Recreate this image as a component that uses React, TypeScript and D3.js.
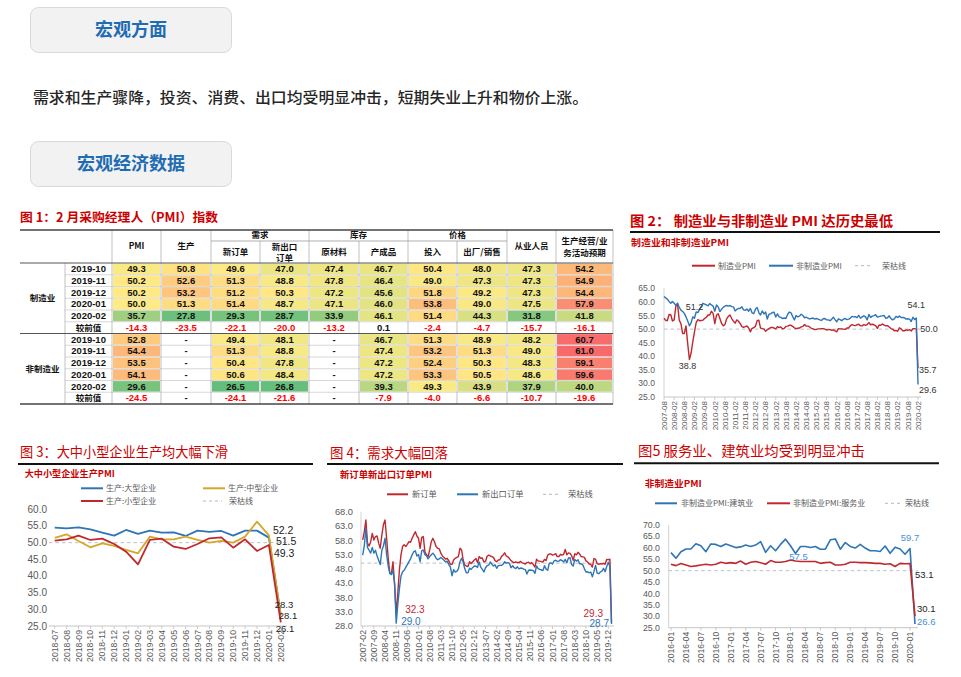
import React from "react";
import * as d3 from "d3";

const CJK = '"Noto Sans CJK SC", "Noto Sans", sans-serif';
const LAT = '"Liberation Sans", Arial, "Noto Sans CJK SC", sans-serif';
const TITLE_RED = "#cc0000";
const C_RED = "#c0282e";
const C_BLUE = "#2e75b6";
const C_LBLUE = "#4a8fd6";
const C_GOLD = "#d4a62a";
const GRAY = "#595959";

const monthList = (y: number, m: number, n: number) => {
  const d0 = new Date(y, m - 1, 1);
  const f = d3.timeFormat("%Y-%m");
  return d3.range(n).map((i) => f(d3.timeMonth.offset(d0, i)));
};

// ---------- Table data ----------
const TABLE_COLS = ["PMI", "生产", "新订单", "新出口订单", "原材料", "产成品", "投入", "出厂/销售", "从业人员", "生产经营/业务活动预期"];
const ROW_DATES = ["2019-10", "2019-11", "2019-12", "2020-01", "2020-02"];
const MFG_VALUES: (number | null)[][] = [
  [49.3, 50.8, 49.6, 47.0, 47.4, 46.7, 50.4, 48.0, 47.3, 54.2],
  [50.2, 52.6, 51.3, 48.8, 47.8, 46.4, 49.0, 47.3, 47.3, 54.9],
  [50.2, 53.2, 51.2, 50.3, 47.2, 45.6, 51.8, 49.2, 47.3, 54.4],
  [50.0, 51.3, 51.4, 48.7, 47.1, 46.0, 53.8, 49.0, 47.5, 57.9],
  [35.7, 27.8, 29.3, 28.7, 33.9, 46.1, 51.4, 44.3, 31.8, 41.8],
];
const MFG_CHANGE: (number | null)[] = [-14.3, -23.5, -22.1, -20.0, -13.2, 0.1, -2.4, -4.7, -15.7, -16.1];
const NON_VALUES: (number | null)[][] = [
  [52.8, null, 49.4, 48.1, null, 46.7, 51.3, 48.9, 48.2, 60.7],
  [54.4, null, 51.3, 48.8, null, 47.4, 53.2, 51.3, 49.0, 61.0],
  [53.5, null, 50.4, 47.8, null, 47.2, 52.4, 50.3, 48.3, 59.1],
  [54.1, null, 50.6, 48.4, null, 47.2, 53.3, 50.5, 48.6, 59.6],
  [29.6, null, 26.5, 26.8, null, 39.3, 49.3, 43.9, 37.9, 40.0],
];
const NON_CHANGE: (number | null)[] = [-24.5, null, -24.1, -21.6, null, -7.9, -4.0, -6.6, -10.7, -19.6];

// ---------- Chart 2 data: 2007-08 .. 2020-02 ----------
const MFG_PMI = [
  54.0, 53.2, 53.2, 55.4, 55.3,
  53.0, 53.4, 58.4, 59.2, 53.3, 52.0, 48.4, 48.4, 51.2, 44.6, 38.8, 41.2,
  45.3, 49.0, 52.4, 53.5, 53.1, 53.2, 53.3, 54.0, 54.3, 55.2, 55.2, 56.6,
  55.8, 52.0, 55.1, 55.7, 53.9, 52.1, 51.2, 51.7, 53.8, 54.7, 55.2, 53.9,
  52.9, 52.2, 53.4, 52.9, 52.0, 50.9, 50.7, 50.9, 51.2, 50.4, 49.0, 50.3,
  50.5, 51.0, 53.1, 53.3, 50.4, 50.2, 50.1, 49.2, 49.8, 50.2, 50.6, 50.6,
  50.4, 50.1, 50.9, 50.6, 50.8, 50.1, 50.3, 51.0, 51.1, 51.4, 51.4, 51.0,
  50.5, 50.2, 50.3, 50.4, 50.8, 51.0, 51.7, 51.1, 51.1, 50.8, 50.3, 50.1,
  49.8, 49.9, 50.1, 50.1, 50.2, 50.2, 50.0, 49.7, 49.8, 49.8, 49.6, 49.7,
  49.4, 49.0, 50.2, 50.1, 50.1, 50.0, 49.9, 50.4, 50.4, 51.2, 51.7, 51.4,
  51.3, 51.6, 51.8, 51.2, 51.2, 51.7, 51.4, 51.7, 52.4, 51.6, 51.8, 51.6,
  51.3, 50.3, 51.5, 51.4, 51.9, 51.5, 51.2, 51.3, 50.8, 50.2, 50.0, 49.4,
  49.5, 49.2, 50.5, 50.1, 49.4, 49.4, 49.7, 49.5, 49.8, 49.3, 50.2, 50.2,
  50.0, 35.7,
];
const NON_PMI = [
  62.0, 61.5, 61.0, 60.2, 59.5,
  60.2, 59.5, 58.8, 59.6, 58.0, 57.0, 56.5, 55.8, 54.5, 53.0, 51.2, 52.3,
  54.5, 54.0, 56.3, 56.1, 57.3, 58.4, 59.5, 59.2, 58.9, 58.6, 59.4, 58.9,
  58.5, 56.6, 58.9, 58.2, 56.5, 57.3, 58.0, 58.5, 58.7, 58.5, 58.7, 58.3,
  58.2, 56.7, 57.3, 57.6, 57.7, 58.2, 57.1, 56.9, 57.4, 56.6, 57.6, 56.0,
  55.7, 57.3, 58.0, 56.1, 55.2, 56.7, 55.6, 56.3, 53.7, 55.5, 55.6, 56.1,
  56.2, 54.5, 55.6, 54.5, 54.3, 53.9, 54.1, 53.9, 55.4, 56.3, 56.0, 54.6,
  53.4, 55.0, 54.5, 54.8, 55.5, 55.0, 54.2, 54.4, 54.0, 53.8, 53.9, 54.1,
  53.7, 53.9, 53.7, 53.4, 53.2, 53.8, 53.9, 53.4, 53.4, 53.1, 53.6, 54.4,
  53.5, 52.7, 53.8, 53.5, 53.1, 53.7, 53.9, 53.5, 53.7, 54.0, 54.7, 54.5,
  54.6, 54.2, 55.1, 54.0, 54.5, 54.9, 54.5, 53.4, 55.4, 54.3, 54.8, 55.0,
  55.3, 54.4, 54.6, 54.8, 54.9, 55.0, 54.0, 54.2, 54.9, 53.9, 53.4, 53.8,
  54.7, 54.3, 54.8, 54.3, 54.3, 54.2, 53.7, 53.8, 53.7, 52.8, 54.4, 53.5,
  54.1, 29.6,
];

// ---------- Chart 3 data: 2018-07 .. 2020-02 ----------
const PROD_LARGE = [54.5, 54.3, 54.6, 54.0, 53.0, 52.1, 53.8, 52.6, 53.6, 53.0, 53.1, 52.0, 53.6, 53.2, 53.5, 52.1, 53.6, 53.6, 51.5, 28.3];
const PROD_MEDIUM = [51.4, 52.5, 50.5, 48.6, 49.8, 49.0, 47.8, 46.8, 51.8, 51.0, 51.0, 51.8, 50.8, 50.0, 50.5, 50.0, 51.8, 56.3, 52.2, 28.1];
const PROD_SMALL = [50.6, 51.0, 52.1, 50.8, 51.2, 49.6, 47.3, 43.5, 50.8, 51.2, 48.8, 48.1, 49.6, 51.3, 51.6, 48.5, 51.0, 47.5, 49.3, 26.1];

// ---------- Chart 4 data: 2007-02 .. 2020-02 ----------
const NEW_ORDERS = [
  58.1, 61.0, 65.1, 57.0, 56.0, 57.5, 60.4, 58.1, 59.3, 59.5, 57.0,
  55.2, 59.8, 63.5, 65.1, 58.7, 51.7, 46.4, 46.4, 50.5, 42.3, 32.3, 39.4,
  47.6, 52.9, 55.8, 56.4, 55.8, 56.6, 57.5, 57.3, 58.7, 59.9, 61.0, 59.5,
  58.7, 55.2, 59.0, 59.3, 54.0, 52.9, 52.3, 54.6, 57.5, 58.7, 57.5, 55.8,
  55.2, 55.0, 53.5, 52.5, 52.0, 51.4, 51.7, 50.8, 49.5, 49.6, 51.1, 51.7,
  52.0, 52.3, 55.2, 54.6, 51.1, 49.3, 49.0, 48.8, 50.5, 49.9, 50.5, 51.1,
  51.6, 50.1, 52.3, 51.7, 51.8, 50.4, 50.6, 52.4, 52.8, 52.5, 52.3, 52.0,
  50.9, 50.5, 51.1, 51.2, 52.3, 52.8, 53.6, 52.5, 52.2, 51.6, 50.9, 50.4,
  50.2, 50.4, 50.2, 50.2, 50.6, 50.1, 49.9, 49.7, 50.2, 50.3, 49.8, 50.2,
  49.5, 48.6, 51.4, 50.7, 50.7, 50.5, 50.4, 51.3, 50.9, 52.8, 53.2, 53.2,
  52.8, 53.0, 53.3, 52.3, 52.3, 53.1, 52.8, 53.1, 54.8, 52.9, 53.6, 53.4,
  52.6, 51.0, 53.3, 52.9, 53.8, 53.2, 52.3, 52.2, 52.0, 50.8, 50.4, 49.7,
  49.6, 48.6, 51.6, 51.4, 49.8, 49.6, 49.8, 49.7, 49.9, 49.6, 51.3, 51.2,
  51.4, 29.3,
];
const NEW_EXPORT = [
  52.8, 56.0, 62.2, 55.5, 54.5, 53.5, 55.5, 53.5, 54.5, 52.5, 51.0,
  49.5, 54.5, 56.0, 58.7, 53.0, 49.0, 46.4, 46.0, 47.5, 43.0, 29.0, 35.5,
  41.0, 45.5, 47.0, 47.5, 48.5, 49.5, 50.5, 51.5, 52.9, 54.0, 54.3, 52.5,
  53.0, 50.5, 54.3, 54.6, 53.0, 52.6, 51.5, 52.3, 52.9, 53.5, 52.8, 51.7,
  51.2, 51.5, 52.0, 51.5, 51.0, 50.4, 50.7, 49.5, 48.6, 45.6, 47.7, 46.9,
  47.1, 48.0, 50.5, 51.7, 50.3, 48.0, 46.6, 46.6, 48.2, 47.8, 48.5, 49.0,
  48.9, 48.5, 50.4, 48.6, 47.8, 46.9, 48.4, 49.1, 49.3, 50.4, 49.6, 49.0,
  49.4, 48.2, 49.1, 49.2, 49.2, 49.6, 50.5, 50.0, 50.2, 49.9, 48.4, 49.1,
  48.4, 48.1, 48.7, 48.0, 48.3, 48.2, 47.9, 47.7, 46.2, 47.5, 47.6, 47.5,
  47.4, 46.4, 49.0, 48.1, 47.8, 47.6, 47.4, 49.1, 47.9, 47.5, 50.0, 50.1,
  49.7, 50.8, 51.0, 50.6, 50.7, 51.2, 50.9, 50.4, 51.3, 50.1, 51.8, 51.9,
  49.5, 49.0, 51.3, 50.7, 51.2, 49.8, 49.8, 49.4, 48.0, 46.9, 47.0, 46.6,
  46.9, 45.2, 47.1, 49.2, 46.5, 46.3, 46.9, 47.2, 48.2, 47.0, 48.8, 50.3,
  48.7, 28.7,
];

// ---------- Chart 5 data: 2016-01 .. 2020-02 ----------
const CONSTRUCTION = [
  57.9, 55.4, 58.3, 59.5, 59.5, 61.8, 60.9, 58.3, 61.7, 61.5, 60.6, 61.7,
  60.9, 60.1, 60.4, 61.2, 60.6, 61.2, 62.7, 58.0, 60.9, 58.7, 61.5, 63.8,
  60.9, 57.5, 60.6, 60.6, 60.1, 60.6, 59.4, 59.4, 63.5, 63.9, 59.4, 62.3,
  60.6, 59.9, 61.5, 59.9, 58.7, 58.7, 58.4, 60.8, 57.6, 60.3, 59.5, 57.2,
  59.7, 26.6,
];
const SERVICES = [
  52.8, 52.2, 53.1, 52.5, 51.8, 52.1, 52.5, 52.8, 52.5, 52.8, 53.7, 53.2,
  53.5, 53.2, 54.2, 52.8, 53.7, 54.0, 53.5, 52.8, 54.4, 53.7, 53.7, 54.0,
  54.7, 54.2, 54.0, 54.0, 54.0, 54.0, 53.2, 53.5, 53.7, 52.5, 52.5, 52.8,
  53.7, 53.7, 53.5, 53.5, 53.4, 53.2, 53.2, 52.8, 53.0, 51.8, 53.2, 53.0,
  53.1, 30.1,
];

type Series = { values: number[]; color: string; width?: number };
type Ann = { text: string; s: number; idx: number; dx: number; dy: number; color: string; anchor?: "start" | "middle" | "end"; size?: number };

function LineChart(p: {
  cats: string[];
  every: number;
  x0: number;
  x1: number;
  yMin: number;
  yMax: number;
  yTop: number;
  yBot: number;
  yStep: number;
  series: Series[];
  anns: Ann[];
  yAxisX?: number;
  axisStart: number;
  axisEnd: number;
  yLabelX: number;
  yFont: number;
  xFont: number;
  annFont: number;
}) {
  const x = d3.scaleLinear().domain([0, p.cats.length - 1]).range([p.x0, p.x1]);
  const y = d3.scaleLinear().domain([p.yMin, p.yMax]).range([p.yBot, p.yTop]);
  const ticks = d3.range(p.yMin, p.yMax + 0.001, p.yStep);
  const line = d3.line<number>().x((_, i) => x(i)).y((v) => y(v));
  const labelIdx = d3.range(0, p.cats.length, p.every);
  return (
    <g>
      {ticks.map((t) => (
        <text key={t} x={p.yLabelX} y={y(t)} dy="0.35em" textAnchor="end" fontSize={p.yFont} fill={GRAY} fontFamily={LAT}>
          {t.toFixed(1)}
        </text>
      ))}
      {p.yAxisX != null && <line x1={p.yAxisX} x2={p.yAxisX} y1={p.yTop} y2={p.yBot} stroke="#c8c8c8" strokeWidth={0.8} />}
      <line x1={p.axisStart} x2={p.axisEnd} y1={y(50)} y2={y(50)} stroke="#b4b8c4" strokeWidth={0.9} strokeDasharray="3.5,3" />
      <line x1={p.axisStart} x2={p.axisEnd} y1={p.yBot} y2={p.yBot} stroke="#bfbfbf" strokeWidth={0.9} />
      {labelIdx.map((i) => (
        <g key={i}>
          <line x1={x(i)} x2={x(i)} y1={p.yBot} y2={p.yBot + 3} stroke="#bfbfbf" strokeWidth={0.8} />
          <text
            transform={`translate(${x(i)},${p.yBot + 4}) rotate(-90)`}
            textAnchor="end"
            dy="0.35em"
            fontSize={p.xFont}
            fill={GRAY}
            fontFamily={LAT}
          >
            {p.cats[i]}
          </text>
        </g>
      ))}
      {p.series.map((s, k) => (
        <path key={k} d={line(s.values) || ""} fill="none" stroke={s.color} strokeWidth={s.width ?? 1.6} strokeLinejoin="round" />
      ))}
      {p.anns.map((a, k) => (
        <text
          key={k}
          x={x(a.idx) + a.dx}
          y={y(p.series[a.s].values[a.idx]) + a.dy}
          dy="0.35em"
          textAnchor={a.anchor ?? "start"}
          fontSize={a.size ?? p.annFont}
          fill={a.color}
          fontFamily={LAT}
        >
          {a.text}
        </text>
      ))}
    </g>
  );
}

type LegItem = { kind: "line" | "dash"; color: string; x1: number; x2: number; tx: number; y: number; text: string };
function Legend({ items, size }: { items: LegItem[]; size: number }) {
  return (
    <g>
      {items.map((it, k) => (
        <g key={k}>
          <line
            x1={it.x1}
            x2={it.x2}
            y1={it.y}
            y2={it.y}
            stroke={it.color}
            strokeWidth={it.kind === "line" ? 2 : 1}
            strokeDasharray={it.kind === "dash" ? "3,3" : undefined}
          />
          <text x={it.tx} y={it.y} dy="0.35em" fontSize={size} fill={GRAY} fontFamily={CJK}>
            {it.text}
          </text>
        </g>
      ))}
    </g>
  );
}

function ChartHead(p: { title: string; tx: number; ty: number; tlen: number; tsize: number; bold?: boolean; rx0: number; rx1: number; ry: number; sub: string; sx: number; sy: number; slen: number; ssize: number }) {
  return (
    <g>
      <text x={p.tx} y={p.ty} dy="0.35em" fontSize={p.tsize} fontWeight={p.bold ? 700 : 400} fill={TITLE_RED} textLength={p.tlen} lengthAdjust="spacingAndGlyphs">
        {p.title}
      </text>
      <line x1={p.rx0} x2={p.rx1} y1={p.ry} y2={p.ry} stroke="#111" strokeWidth={2} />
      <text x={p.sx} y={p.sy} dy="0.35em" fontSize={p.ssize} fontWeight={700} fill={TITLE_RED} textLength={p.slen} lengthAdjust="spacingAndGlyphs">
        {p.sub}
      </text>
    </g>
  );
}

function PmiTable() {
  const colX = [20, 65, 112, 161, 211, 260, 309, 359, 408, 457, 507, 556, 613];
  const headTop = 230;
  const headMid = 241;
  const headBot = 263;
  const rowH = 11.75;
  const color = d3.scaleLinear<string>().domain([26.5, 50, 61]).range(["#63be7b", "#ffeb84", "#f8696b"]);
  const groups = [
    { name: "制造业", values: MFG_VALUES, change: MFG_CHANGE },
    { name: "非制造业", values: NON_VALUES, change: NON_CHANGE },
  ];
  const rows: { date: string; vals: (number | null)[]; change: boolean }[] = [];
  groups.forEach((g) => {
    g.values.forEach((v, i) => rows.push({ date: ROW_DATES[i], vals: v, change: false }));
    rows.push({ date: "较前值", vals: g.change, change: true });
  });
  const bottom = headBot + rows.length * rowH;
  const cx = (c: number) => (colX[c] + colX[c + 1]) / 2;
  const hs = 8.5;
  const hText = (t: string, x: number, y: number, key: string) => (
    <text key={key} x={x} y={y} dy="0.35em" textAnchor="middle" fontSize={hs} fontWeight={700} fill="#111" fontFamily={CJK}>
      {t}
    </text>
  );
  const fmt = (v: number) => v.toFixed(1);
  return (
    <g>
      <text x={20} y={218} dy="0.35em" fontSize={12.5} fontWeight={700} fill={TITLE_RED} textLength={198} lengthAdjust="spacingAndGlyphs" fontFamily={CJK}>
        图 1：2 月采购经理人（PMI）指数
      </text>
      {rows.map((r, ri) => {
        const y0 = headBot + ri * rowH;
        return (
          <g key={ri}>
            {r.vals.map((v, ci) => {
              const x0 = colX[ci + 2];
              const x1 = colX[ci + 3];
              const fill = v == null || r.change ? "#ffffff" : color(v);
              const txt = v == null ? "-" : fmt(v);
              const tc = r.change && v != null && v < 0 ? "#ff0000" : "#111";
              return (
                <g key={ci}>
                  <rect x={x0 + 1} y={y0 + 0.6} width={x1 - x0 - 2} height={rowH - 1.2} fill={fill} />
                  <text x={(x0 + x1) / 2} y={y0 + rowH / 2} dy="0.35em" textAnchor="middle" fontSize={9.5} fontWeight={700} fill={tc} fontFamily={LAT}>
                    {txt}
                  </text>
                </g>
              );
            })}
            <text x={cx(1)} y={y0 + rowH / 2} dy="0.35em" textAnchor="middle" fontSize={r.change ? 8.5 : 9.5} fontWeight={700} fill="#111" fontFamily={r.change ? CJK : LAT}>
              {r.date}
            </text>
          </g>
        );
      })}
      {rows.map((_, ri) =>
        ri === 0 || ri === 6 ? null : (
          <line key={"rl" + ri} x1={65} x2={613} y1={headBot + ri * rowH} y2={headBot + ri * rowH} stroke="#bdbdbd" strokeWidth={0.6} />
        )
      )}
      {colX.slice(1).map((x, k) => {
        const inner = x === 260 || x === 359 || x === 457;
        const y1 = x === 65 ? headBot : inner ? headMid : headTop;
        return <line key={"v" + k} x1={x} x2={x} y1={y1} y2={bottom} stroke="#a6a6a6" strokeWidth={0.7} />;
      })}
      <line x1={211} x2={507} y1={headMid} y2={headMid} stroke="#8c8c8c" strokeWidth={0.7} />
      <line x1={20} x2={613} y1={headTop} y2={headTop} stroke="#444" strokeWidth={1.4} />
      <line x1={20} x2={613} y1={headBot} y2={headBot} stroke="#555" strokeWidth={1} />
      <line x1={20} x2={613} y1={headBot + 6 * rowH} y2={headBot + 6 * rowH} stroke="#555" strokeWidth={1} />
      <line x1={20} x2={613} y1={bottom} y2={bottom} stroke="#444" strokeWidth={1.4} />
      {groups.map((g, gi) => (
        <text key={g.name} x={42.5} y={headBot + (gi * 6 + 3) * rowH} dy="0.35em" textAnchor="middle" fontSize={8.5} fontWeight={700} fill="#111">
          {g.name}
        </text>
      ))}
      {hText(TABLE_COLS[0], cx(2), 246.5, "h0")}
      {hText(TABLE_COLS[1], cx(3), 246.5, "h1")}
      {hText("需求", (colX[4] + colX[6]) / 2, 235.5, "g1")}
      {hText("库存", (colX[6] + colX[8]) / 2, 235.5, "g2")}
      {hText("价格", (colX[8] + colX[10]) / 2, 235.5, "g3")}
      {hText(TABLE_COLS[2], cx(4), 252.5, "h2")}
      {hText("新出口", cx(5), 247, "h3a")}
      {hText("订单", cx(5), 258, "h3b")}
      {hText(TABLE_COLS[4], cx(6), 252.5, "h4")}
      {hText(TABLE_COLS[5], cx(7), 252.5, "h5")}
      {hText(TABLE_COLS[6], cx(8), 252.5, "h6")}
      {hText(TABLE_COLS[7], cx(9), 252.5, "h7")}
      {hText(TABLE_COLS[8], cx(10), 246.5, "h8")}
      {hText("生产经营/业", cx(11), 241, "h9a")}
      {hText("务活动预期", cx(11), 253, "h9b")}
    </g>
  );
}

function TopHeader() {
  return (
    <g>
      <rect x={30.5} y={7.5} width={201} height={45} rx={8} fill="#f2f2f2" stroke="#d9d9d9" />
      <text x={131} y={30} dy="0.35em" textAnchor="middle" fontSize={18} fontWeight={700} fill="#1e6cb3">
        宏观方面
      </text>
      <text x={33} y={98} dy="0.35em" fontSize={15} fontWeight={500} fill="#262626" textLength={555} lengthAdjust="spacingAndGlyphs">
        需求和生产骤降，投资、消费、出口均受明显冲击，短期失业上升和物价上涨。
      </text>
      <rect x={30.5} y={141.5} width={201} height={45} rx={8} fill="#f2f2f2" stroke="#d9d9d9" />
      <text x={131} y={164} dy="0.35em" textAnchor="middle" fontSize={18} fontWeight={700} fill="#1e6cb3">
        宏观经济数据
      </text>
    </g>
  );
}

export default function App() {
  const cats2 = monthList(2007, 8, MFG_PMI.length);
  const cats3 = monthList(2018, 7, PROD_LARGE.length);
  const cats4 = monthList(2007, 2, NEW_ORDERS.length);
  const cats5 = monthList(2016, 1, CONSTRUCTION.length);
  return (
    <svg width={961} height={677} style={{ position: "absolute", left: 0, top: 0, background: "#fff" }} fontFamily={CJK}>
      <rect x={0} y={0} width={961} height={677} fill="#fff" />
      <TopHeader />
      <PmiTable />

      {/* Chart 2 */}
      <ChartHead
        title="图 2：  制造业与非制造业 PMI 达历史最低"
        tx={630}
        ty={221}
        tlen={263}
        tsize={13.5}
        bold
        rx0={630}
        rx1={940}
        ry={232}
        sub="制造业和非制造业PMI"
        sx={631}
        sy={242.5}
        slen={98}
        ssize={9.5}
      />
      <Legend
        size={8}
        items={[
          { kind: "line", color: C_RED, x1: 692, x2: 715, tx: 718, y: 265.7, text: "制造业PMI" },
          { kind: "line", color: C_BLUE, x1: 769, x2: 793, tx: 796, y: 265.7, text: "非制造业PMI" },
          { kind: "dash", color: "#b4b8c4", x1: 855, x2: 873, tx: 882, y: 265.7, text: "荣枯线" },
        ]}
      />
      <LineChart
        cats={cats2}
        every={6}
        x0={664}
        x1={918}
        yMin={25}
        yMax={65}
        yTop={288.4}
        yBot={397}
        yStep={5}
        yAxisX={664}
        axisStart={664}
        axisEnd={921}
        yLabelX={655}
        yFont={8.6}
        xFont={8}
        annFont={9}
        series={[
          { values: MFG_PMI, color: C_RED, width: 1.4 },
          { values: NON_PMI, color: C_BLUE, width: 1.4 },
        ]}
        anns={[
          { text: "51.2", s: 1, idx: 15, dx: 5, dy: -19, color: "#333", anchor: "middle" },
          { text: "38.8", s: 0, idx: 15, dx: -2, dy: 6, color: "#333", anchor: "middle" },
          { text: "54.1", s: 1, idx: 149, dx: 0, dy: -13, color: "#333", anchor: "middle" },
          { text: "50.0", s: 0, idx: 149, dx: 4, dy: 0, color: "#333" },
          { text: "35.7", s: 0, idx: 150, dx: 1, dy: 2, color: "#333" },
          { text: "29.6", s: 1, idx: 150, dx: 1, dy: 5, color: "#333" },
        ]}
      />

      {/* Chart 3 */}
      <ChartHead
        title="图 3：大中小型企业生产均大幅下滑"
        tx={20}
        ty={452.5}
        tlen={208}
        tsize={14}
        rx0={18}
        rx1={313}
        ry={464}
        sub="大中小型企业生产PMI"
        sx={24.7}
        sy={473.5}
        slen={90}
        ssize={9.5}
      />
      <Legend
        size={8}
        items={[
          { kind: "line", color: C_BLUE, x1: 81, x2: 103, tx: 106, y: 488.3, text: "生产:大型企业" },
          { kind: "line", color: C_GOLD, x1: 203, x2: 225, tx: 228, y: 488.3, text: "生产:中型企业" },
          { kind: "line", color: C_RED, x1: 81, x2: 103, tx: 106, y: 501, text: "生产:小型企业" },
          { kind: "dash", color: "#b4b8c4", x1: 203, x2: 222, tx: 229, y: 501, text: "荣枯线" },
        ]}
      />
      <LineChart
        cats={cats3}
        every={1}
        x0={54.7}
        x1={280.8}
        yMin={25}
        yMax={60}
        yTop={509.3}
        yBot={626}
        yStep={5}
        axisStart={49}
        axisEnd={287}
        yLabelX={47}
        yFont={10}
        xFont={8.7}
        annFont={10.5}
        series={[
          { values: PROD_LARGE, color: C_BLUE, width: 1.8 },
          { values: PROD_MEDIUM, color: C_GOLD, width: 1.8 },
          { values: PROD_SMALL, color: C_RED, width: 1.8 },
        ]}
        anns={[
          { text: "52.2", s: 1, idx: 18, dx: 4, dy: -5, color: "#222" },
          { text: "51.5", s: 0, idx: 18, dx: 7, dy: 4, color: "#222" },
          { text: "49.3", s: 2, idx: 18, dx: 5, dy: 8, color: "#222" },
          { text: "28.3", s: 0, idx: 19, dx: -6, dy: -10, color: "#222", size: 9.5 },
          { text: "28.1", s: 1, idx: 19, dx: -2, dy: 0.5, color: "#222", size: 9.5 },
          { text: "26.1", s: 2, idx: 19, dx: -5, dy: 6, color: "#222", size: 9.5 },
        ]}
      />

      {/* Chart 4 */}
      <ChartHead
        title="图 4：需求大幅回落"
        tx={330}
        ty={452.7}
        tlen={118}
        tsize={14}
        rx0={327}
        rx1={623}
        ry={464}
        sub="新订单新出口订单PMI"
        sx={340}
        sy={474.3}
        slen={92}
        ssize={9.5}
      />
      <Legend
        size={8.3}
        items={[
          { kind: "line", color: C_RED, x1: 387, x2: 408, tx: 412, y: 494.3, text: "新订单" },
          { kind: "line", color: C_BLUE, x1: 457, x2: 478, tx: 482, y: 494.3, text: "新出口订单" },
          { kind: "dash", color: "#b4b8c4", x1: 543, x2: 560, tx: 568, y: 494.3, text: "荣枯线" },
        ]}
      />
      <LineChart
        cats={cats4}
        every={7}
        x0={362.7}
        x1={611.5}
        yMin={28}
        yMax={68}
        yTop={511.7}
        yBot={626}
        yStep={5}
        yAxisX={361}
        axisStart={361}
        axisEnd={614}
        yLabelX={353}
        yFont={9.3}
        xFont={8.7}
        annFont={10}
        series={[
          { values: NEW_ORDERS, color: C_RED, width: 1.4 },
          { values: NEW_EXPORT, color: C_BLUE, width: 1.4 },
        ]}
        anns={[
          { text: "32.3", s: 0, idx: 21, dx: 9, dy: -4.4, color: C_RED },
          { text: "29.0", s: 1, idx: 21, dx: 5, dy: -1.4, color: C_BLUE },
          { text: "29.3", s: 0, idx: 156, dx: -8.5, dy: -8.3, color: C_RED, anchor: "end" },
          { text: "28.7", s: 1, idx: 156, dx: -2.5, dy: 0, color: C_BLUE, anchor: "end" },
        ]}
      />

      {/* Chart 5 */}
      <ChartHead
        title="图5  服务业、建筑业均受到明显冲击"
        tx={638}
        ty={451}
        tlen={227}
        tsize={14}
        rx0={634}
        rx1={939}
        ry={463.3}
        sub="非制造业PMI"
        sx={644.7}
        sy={484.3}
        slen={57}
        ssize={9}
      />
      <Legend
        size={8}
        items={[
          { kind: "line", color: C_BLUE, x1: 655, x2: 677, tx: 681, y: 503.3, text: "非制造业PMI:建筑业" },
          { kind: "line", color: C_RED, x1: 767, x2: 790, tx: 793, y: 503.3, text: "非制造业PMI:服务业" },
          { kind: "dash", color: "#b4b8c4", x1: 885, x2: 900, tx: 905, y: 503.3, text: "荣枯线" },
        ]}
      />
      <LineChart
        cats={cats5}
        every={3}
        x0={671}
        x1={915}
        yMin={25}
        yMax={70}
        yTop={525}
        yBot={627.7}
        yStep={5}
        yAxisX={668.7}
        axisStart={668.7}
        axisEnd={918}
        yLabelX={660}
        yFont={8.8}
        xFont={8.5}
        annFont={9.5}
        series={[
          { values: CONSTRUCTION, color: C_BLUE, width: 1.6 },
          { values: SERVICES, color: C_RED, width: 1.6 },
        ]}
        anns={[
          { text: "59.7", s: 0, idx: 48, dx: 0, dy: -11, color: C_LBLUE, anchor: "middle" },
          { text: "57.5", s: 0, idx: 25, dx: 3, dy: 3, color: C_LBLUE, anchor: "middle" },
          { text: "53.1", s: 1, idx: 48, dx: 5, dy: 11, color: "#222" },
          { text: "30.1", s: 1, idx: 49, dx: 2, dy: -7, color: "#222" },
          { text: "26.6", s: 0, idx: 49, dx: 2, dy: -2, color: C_LBLUE },
        ]}
      />
    </svg>
  );
}
